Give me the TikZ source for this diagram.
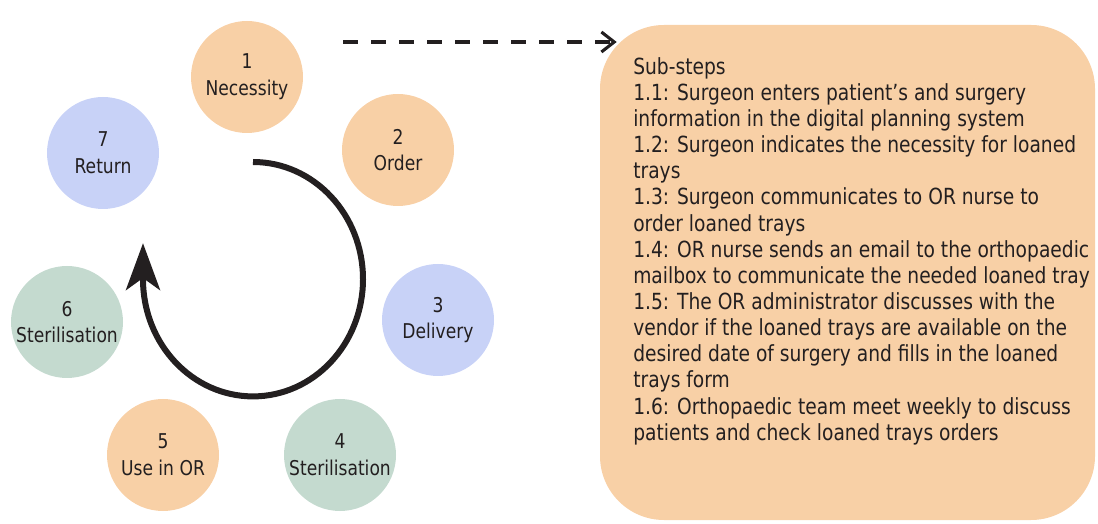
\documentclass[tikz,border=0pt]{standalone}
\usepackage{fontspec}
\setmainfont[FakeStretch=0.84]{DejaVu Sans}
\usepackage{tikz}
\usetikzlibrary{arrows.meta,positioning}
\usepackage{xcolor}
\definecolor{trayorange}{RGB}{248,208,166}
\definecolor{trayblue}{RGB}{200,210,247}
\definecolor{traygreen}{RGB}{196,218,207}
\definecolor{textdark}{RGB}{35,31,32}

\begin{document}
\begin{tikzpicture}[
    stage/.style={circle,minimum size=2.8cm,inner sep=0pt,align=center,
                  font=\fontsize{14.5}{19}\selectfont,text=textdark},
    subbox/.style={rounded corners=1.6cm,fill=trayorange,minimum width=12.375cm,
                   minimum height=12.375cm,inner sep=0pt}]
    \useasboundingbox (0,0) rectangle (27.45,13.075);

    % process stages
    \node[stage,fill=trayorange] (necessity) at (6.175,11.15) {1\\Necessity};
    \node[stage,fill=trayorange] (order) at (9.95,9.325) {2\\Order};
    \node[stage,fill=trayblue] (delivery) at (10.95,5.075) {3\\Delivery};
    \node[stage,fill=traygreen] (steril) at (8.5,1.7) {4\\Sterilisation};
    \node[stage,fill=trayorange] (useor) at (4.075,1.7) {5\\Use in OR};
    \node[stage,fill=traygreen] (resteril) at (1.675,5.025) {6\\Sterilisation};
    \node[stage,fill=trayblue] (return) at (2.575,9.25) {7\\Return};

    % cycle arrow
    \draw[line width=0.15cm,color=textdark,-{Stealth[length=1.17cm,width=0.85cm,inset=0.3cm]}]
        (6.325,9.025) arc[start angle=90,end angle=-180,x radius=2.75cm,y radius=2.93cm]
        -- ++(0,0.9);

    % sub-steps
    \node[subbox] (substeps) at (21.1875,6.2625) {};
    \node[anchor=north west,align=left,inner sep=0pt,text=textdark,
          font=\fontsize{15.8}{18.6}\selectfont] (subtext) at (15.825,11.65)
        {Sub-steps\\
         1.1: Surgeon enters patient’s and surgery\\
         information in the digital planning system\\
         1.2: Surgeon indicates the necessity for loaned\\
         trays\\
         1.3: Surgeon communicates to OR nurse to\\
         order loaned trays\\
         1.4: OR nurse sends an email to the orthopaedic\\
         mailbox to communicate the needed loaned tray\\
         1.5: The OR administrator discusses with the\\
         vendor if the loaned trays are available on the\\
         desired date of surgery and fills in the loaned\\
         trays form\\
         1.6: Orthopaedic team meet weekly to discuss\\
         patients and check loaned trays orders};

    \coordinate (dashstart) at (8.575,12.025);
    \draw[line width=2.2pt,color=textdark,dash pattern=on 0.375cm off 0.325cm,
          -{Straight Barb[length=0.32cm,width=0.5cm]}]
        (dashstart) -- ([xshift=0.425cm]substeps.west |- dashstart);
\end{tikzpicture}
\end{document}
